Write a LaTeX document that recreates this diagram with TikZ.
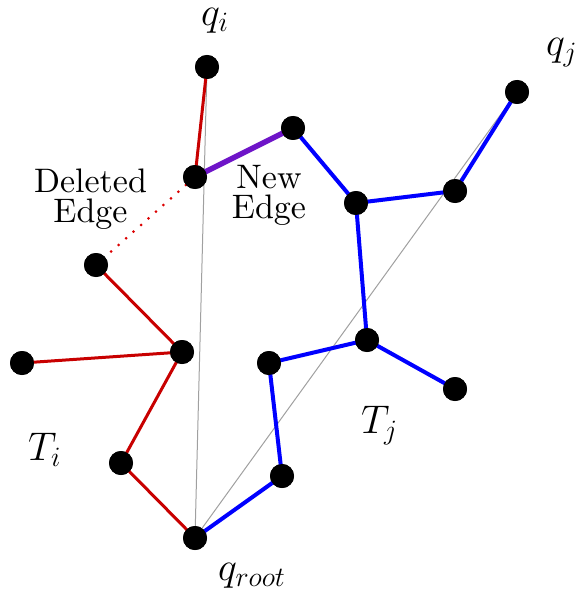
\RequirePackage{fix-cm}
\documentclass[tikz,border=0pt]{standalone}
\usepackage{fontspec}
\setmainfont{lmroman10-regular.otf}
\begin{document}
\begin{tikzpicture}[x=1pt,y=-1pt,
  dot/.style={circle,fill=black,inner sep=0pt,minimum size=24pt},
  redE/.style={draw={rgb,255:red,200;green,0;blue,0},line width=3pt},
  blueE/.style={draw={rgb,255:red,0;green,0;blue,255},line width=4pt},
  purpE/.style={draw={rgb,255:red,110;green,20;blue,200},line width=5.5pt},
  grayE/.style={draw={rgb,255:red,160;green,160;blue,160},line width=1pt},
  delE/.style={draw={rgb,255:red,220;green,0;blue,0},line width=3pt,line cap=round,dash pattern=on 0pt off 10pt},
  lbl/.style={font=\fontsize{34}{30}\selectfont,align=center,inner sep=0pt},
  mq/.style={font=\fontsize{40}{44}\selectfont,inner sep=0pt,anchor=base west}]
\useasboundingbox (0,0) rectangle (582,596);
% nodes
\node[dot] (A) at (207,67) {};
\node[dot] (B) at (195,177) {};
\node[dot] (C) at (293,128) {};
\node[dot] (D) at (96,265) {};
\node[dot] (E) at (182,352) {};
\node[dot] (F) at (22,363) {};
\node[dot] (G) at (121,463) {};
\node[dot] (R) at (195,538) {};
\node[dot] (H) at (282,476) {};
\node[dot] (I) at (269,363) {};
\node[dot] (J) at (367,340) {};
\node[dot] (K) at (455,389) {};
\node[dot] (L) at (356,203) {};
\node[dot] (M) at (455,191) {};
\node[dot] (N) at (517,92) {};
% edges
\path[grayE] (R.center) -- (A.center);
\path[grayE] (R.center) -- (N.center);
\path[redE] (A.center) -- (B.center);
\path[redE] (D.center) -- (E.center);
\path[redE] (E.center) -- (F.center);
\path[redE] (E.center) -- (G.center);
\path[redE] (G.center) -- (R.center);
\path[delE] (B) -- (D);
\path[purpE] (B.center) -- (C.center);
\path[blueE] (R.center) -- (H.center);
\path[blueE] (H.center) -- (I.center);
\path[blueE] (I.center) -- (J.center);
\path[blueE] (J.center) -- (K.center);
\path[blueE] (J.center) -- (L.center);
\path[blueE] (L.center) -- (C.center);
\path[blueE] (L.center) -- (M.center);
\path[blueE] (M.center) -- (N.center);
% redraw dots on top
\foreach \n in {A,B,C,D,E,F,G,R,H,I,J,K,L,M,N}{\fill (\n) circle (12pt);}
% labels
\node[mq] (qi) at (201,26) {$q_i$};
\node[mq] (qj) at (546,56) {$q_j$};
\node[mq] (qr) at (218,580) {$q_{root}$};
\node[mq] (Ti) at (28,460) {$T_i$};
\node[mq] (Tj) at (361,433) {$T_j$};
\node[lbl] (del) at (90.5,199) {Deleted\\Edge};
\node[lbl] (new) at (269,195) {New\\Edge};
\end{tikzpicture}
\end{document}
